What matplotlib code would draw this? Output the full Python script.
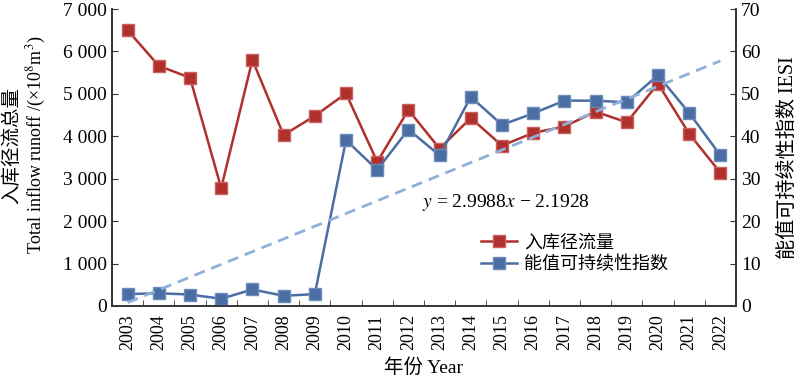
import matplotlib
matplotlib.use('Agg')
import matplotlib.pyplot as plt
import numpy as np

plt.rcParams['font.family'] = ['Liberation Serif', 'Noto Sans CJK SC']
plt.rcParams['mathtext.fontset'] = 'stix'

# data
years = [2003, 2004, 2005, 2006, 2007, 2008, 2009, 2010, 2011, 2012,
         2013, 2014, 2015, 2016, 2017, 2018, 2019, 2020, 2021, 2022]
runoff = [6500, 5660, 5380, 2780, 5800, 4030, 4480, 5010, 3400, 4620,
          3710, 4430, 3780, 4080, 4230, 4580, 4330, 5240, 4060, 3140]
iesi = [2.8, 3.0, 2.7, 1.7, 3.9, 2.4, 2.8, 39.1, 32.1, 41.6,
        35.5, 49.3, 42.7, 45.4, 48.4, 48.4, 48.0, 54.4, 45.5, 35.5]
slope, intercept = 2.9988, -2.1928

red = '#b0302c'
blue = '#4a6da3'
axcol = '#333333'

fig = plt.figure(figsize=(8, 3.9), dpi=100)
ax = fig.add_axes([0.14, 0.2154, 0.78, 0.7615])
ax2 = ax.twinx()

x = np.array(years)
ax.plot(x, runoff, color=red, lw=1.8, marker='s', ms=9, mfc=red, mec='#c86060', label='入库径流量')
ax2.plot(x, iesi, color=blue, lw=1.8, marker='s', ms=9, mfc=blue, mec='#6d8cbc', label='能值可持续性指数')
idx = np.arange(1, len(years) + 1)
ax2.plot(x, slope * idx + intercept, color='#8fb0db', lw=2, ls=(0, (4, 2.5)))

ax.set_xlim(2002.5, 2022.5)
ax.set_ylim(0, 7000)
ax2.set_ylim(0, 70)
ax.set_yticks(np.arange(0, 7001, 1000))
ax.set_yticklabels(['0' if v == 0 else f'{v // 1000} {v % 1000:03d}' for v in range(0, 7001, 1000)])
ax2.set_yticks(np.arange(0, 71, 10))

ax.set_xticks(years)
ax.set_xticklabels([str(y) for y in years], rotation=90)
ax.set_xticks(np.arange(2002.5, 2023, 1), minor=True)
ax.tick_params(axis='x', which='major', length=0, labelsize=13, pad=6)
ax.tick_params(axis='x', which='minor', direction='in', length=4, color=axcol)
ax.tick_params(axis='y', direction='in', length=4, labelsize=14, color=axcol)
ax2.tick_params(axis='y', direction='in', length=4, labelsize=14, color=axcol)

for a in (ax, ax2):
    a.spines['top'].set_visible(False)
    for s in ('left', 'right', 'bottom'):
        a.spines[s].set_color(axcol)
        a.spines[s].set_linewidth(1.2)

ax.set_xlabel('年份 Year', fontsize=14, labelpad=6)
fig.text(0.015, 0.628, '入库径流总量', rotation=90, ha='center', va='center', fontsize=14)
fig.text(0.045, 0.628, r'Total inflow runoff /(×10$^8$m$^3$)', rotation=90, ha='center', va='center', fontsize=13)
fig.text(0.985, 0.597, '能值可持续性指数 IESI', rotation=90, ha='center', va='center', fontsize=14.5)

ax2.text(0.497, 0.35, r'$y$ = 2.9988$x$ − 2.1928', transform=ax.transAxes, fontsize=14, va='center')

h1, l1 = ax.get_legend_handles_labels()
h2, l2 = ax2.get_legend_handles_labels()
ax2.legend(h1 + h2, l1 + l2, loc='upper left', bbox_to_anchor=(0.58, 0.265), frameon=False,
           fontsize=13, handlelength=2.0, handletextpad=0.4, labelspacing=0.25, borderaxespad=0)

fig.savefig('out.png', dpi=100)
